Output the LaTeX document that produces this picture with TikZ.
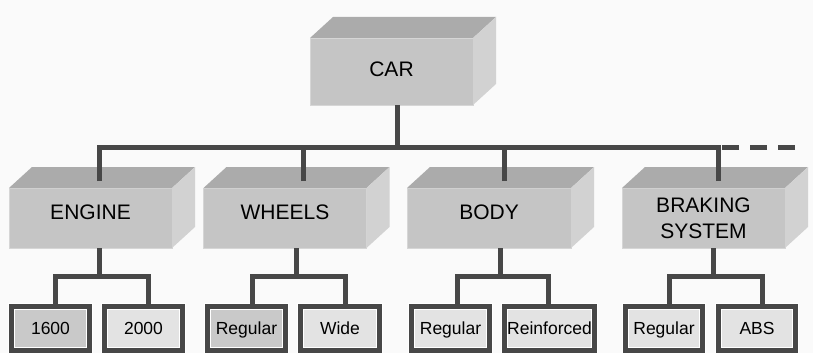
\documentclass[tikz,border=0pt]{standalone}
\usepackage{fontspec}
\setmainfont{Liberation Sans}
\usetikzlibrary{calc}
\definecolor{paper}{HTML}{FAFAFA}
\definecolor{frontgray}{HTML}{C5C5C5}
\definecolor{edgegray}{HTML}{D6D6D6}
\definecolor{topgray}{HTML}{ABABAB}
\definecolor{sidegray}{HTML}{D2D2D2}
\definecolor{linkgray}{HTML}{474747}
\definecolor{leafdark}{HTML}{C9C9C9}
\definecolor{leaflight}{HTML}{E3E3E3}

% 3D block: front face node plus top and side faces
\newcommand{\cube}[5][]{%
  \node[part, #1] (#2) at (#3,#4) {#5};
  \fill[topgray] (#2.north west) -- ++(23,-21) -- ([shift={(23,-21)}]#2.north east) -- (#2.north east) -- cycle;
  \fill[sidegray] (#2.north east) -- ++(23,-21) -- ([shift={(23,-21)}]#2.south east) -- (#2.south east) -- cycle;
}

\tikzset{
  part/.style={rectangle, draw=edgegray, line width=0.8pt, fill=frontgray,
    minimum width=163pt, minimum height=60pt, inner sep=0pt, outer sep=0pt,
    text=black, font=\fontsize{21}{26}\selectfont, text height=15pt, text depth=13pt},
  leaf/.style={rectangle, fill=leaflight, minimum width=78pt, minimum height=44pt,
    inner sep=0pt, outer sep=2.5pt, text=black, font=\fontsize{17.5}{20}\selectfont,
    text height=12.5pt, text depth=0pt,
    postaction={draw=white, line width=7pt}, postaction={draw=linkgray, line width=5pt}},
  link/.style={draw=linkgray, line width=5pt},
}

\begin{document}
\begin{tikzpicture}[x=1pt, y=-1pt]
\fill[paper] (0,0) rectangle (813,353);
\useasboundingbox (0,0) rectangle (813,353);

\cube[minimum height=67pt, text depth=5pt]{car}{391.5}{71.5}{CAR}
\cube{engine}{90.5}{218}{ENGINE}
\cube{wheels}{285}{218}{WHEELS}
\cube[minimum width=164pt]{body}{489}{218}{BODY}
\cube[align=center, text height=, text depth=]{braking}{703.5}{218}{BRAKING\\SYSTEM}

\node[leaf, fill=leafdark] (e1600) at (50.5,328.5) {1600};
\node[leaf] (e2000) at (143.5,328.5) {2000};
\node[leaf, fill=leafdark] (wregular) at (246.5,328.5) {Regular};
\node[leaf, minimum width=79pt] (wwide) at (340,328.5) {Wide};
\node[leaf] (bregular) at (450.5,328.5) {Regular};
\node[leaf, minimum width=90pt] (breinforced) at (549.5,328.5) {Reinforced};
\node[leaf, minimum width=77pt] (sregular) at (664,328.5) {Regular};
\node[leaf, minimum width=77pt] (sabs) at (757,328.5) {ABS};

% top level
\draw[link] ([xshift=6pt]car.south) -- ++(0,42) coordinate (bus);
\draw[link] ([shift={(8.5,-7)}]engine.north) |- (bus);
\draw[link] ([shift={(18,-7)}]wheels.north) |- (bus);
\draw[link] ([shift={(15,-7)}]body.north) |- (bus);
\draw[link] ([shift={(14.5,-7)}]braking.north) |- (bus);
\coordinate (more) at (795,147);
\draw[link, dash pattern=on 17pt off 11pt] (more) -- (bus -| braking.north);

% second level
\path ($(engine.south)!0.5!(e1600.north)$) coordinate (efork);
\draw[link] ([xshift=8.5pt]engine.south) |- (efork);
\draw[link] ([xshift=5pt]e1600.north) |- (efork) -| ([xshift=5pt]e2000.north);

\path ($(wheels.south)!0.5!(wregular.north)$) coordinate (wfork);
\draw[link] ([xshift=11pt]wheels.south) |- (wfork);
\draw[link] ([xshift=5.5pt]wregular.north) |- (wfork) -| ([xshift=5pt]wwide.north);

\path ($(body.south)!0.5!(bregular.north)$) coordinate (bfork);
\draw[link] ([xshift=11pt]body.south) |- (bfork);
\draw[link] ([xshift=6.5pt]bregular.north) |- (bfork) -| ([xshift=-1.5pt]breinforced.north);

\path ($(braking.south)!0.5!(sregular.north)$) coordinate (sfork);
\draw[link] ([xshift=9.5pt]braking.south) |- (sfork);
\draw[link] ([xshift=5pt]sregular.north) |- (sfork) -| ([xshift=5pt]sabs.north);
\end{tikzpicture}
\end{document}
